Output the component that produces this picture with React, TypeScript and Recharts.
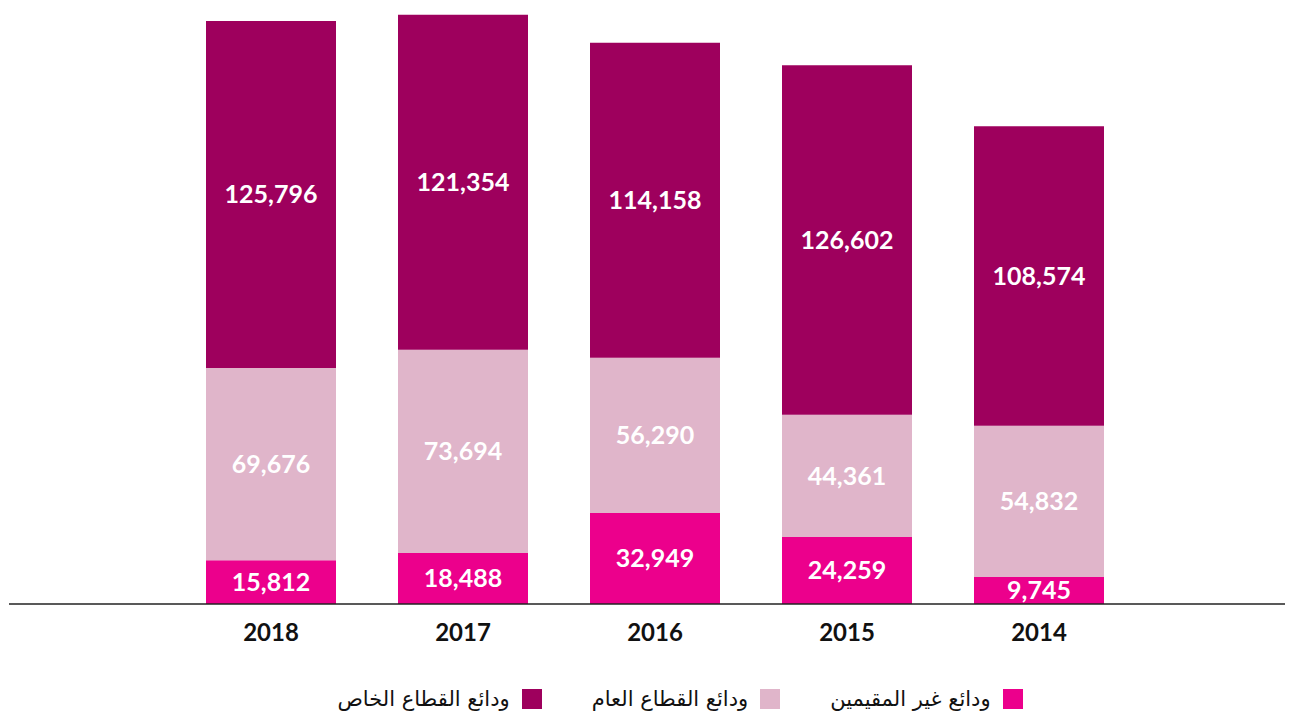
import React from "react";
import { BarChart, Bar, XAxis, YAxis, Legend, LabelList } from "recharts";

const years = ["2018", "2017", "2016", "2015", "2014"];
const nonResident = [15812, 18488, 32949, 24259, 9745];
const publicSector = [69676, 73694, 56290, 44361, 54832];
const privateSector = [125796, 121354, 114158, 126602, 108574];

const seriesNames = ["ودائع غير المقيمين", "ودائع القطاع العام", "ودائع القطاع الخاص"];
const colors = ["#EC008C", "#E0B5CA", "#9E005D"];

const data = years.map((year, i) => ({
  year,
  nonResident: nonResident[i],
  publicSector: publicSector[i],
  privateSector: privateSector[i],
}));

const fmt = (v: any) => Number(v).toLocaleString("en-US");

const labelStyle = {
  fill: "#fff",
  fontSize: 25,
  fontWeight: 700,
  fontFamily: "Lato, sans-serif",
};

const LegendBox = () => (
  <div
    style={{
      display: "flex",
      direction: "rtl",
      justifyContent: "center",
      alignItems: "center",
      gap: 50,
      paddingLeft: 58,
      paddingTop: 6,
      height: 43,
    }}
  >
    {seriesNames.map((name, i) => (
      <div key={name} style={{ display: "flex", alignItems: "center", gap: 12 }}>
        <div style={{ width: 20, height: 20, background: colors[i] }} />
        <span style={{ fontFamily: "'DejaVu Sans', sans-serif", fontSize: 21, color: "#111" }}>{name}</span>
      </div>
    ))}
  </div>
);

export default function App() {
  return (
    <BarChart
      width={1285}
      height={712}
      data={data}
      margin={{ top: 0, right: 0, left: 1, bottom: 0 }}
      barSize={130}
    >
      <XAxis
        dataKey="year"
        axisLine={{ stroke: "#222", strokeWidth: 1.5 }}
        tickLine={false}
        tick={{ fill: "#111", fontSize: 24, fontWeight: 700, fontFamily: "Lato, sans-serif" }}
        tickMargin={14}
        height={67}
        padding={{ left: 166, right: 158 }}
      />
      <YAxis hide domain={[0, 216000]} />
      <Legend verticalAlign="bottom" content={() => <LegendBox />} />
      <Bar dataKey="nonResident" stackId="a" fill={colors[0]} isAnimationActive={false}>
        <LabelList dataKey="nonResident" position="center" formatter={fmt} style={labelStyle} />
      </Bar>
      <Bar dataKey="publicSector" stackId="a" fill={colors[1]} isAnimationActive={false}>
        <LabelList dataKey="publicSector" position="center" formatter={fmt} style={labelStyle} />
      </Bar>
      <Bar dataKey="privateSector" stackId="a" fill={colors[2]} isAnimationActive={false}>
        <LabelList dataKey="privateSector" position="center" formatter={fmt} style={labelStyle} />
      </Bar>
    </BarChart>
  );
}
